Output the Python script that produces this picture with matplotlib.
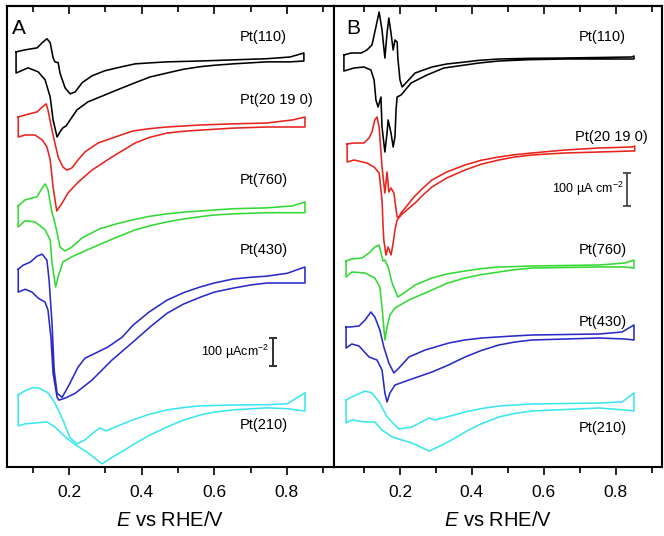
import matplotlib
matplotlib.use("Agg")
import matplotlib.pyplot as plt
from matplotlib.ticker import MultipleLocator

plt.rcParams['font.family'] = ['Liberation Sans', 'DejaVu Sans']
plt.rcParams['mathtext.fontset'] = 'custom'
plt.rcParams['mathtext.rm'] = 'Liberation Sans'
plt.rcParams['mathtext.it'] = 'Liberation Sans:italic'
plt.rcParams['mathtext.bf'] = 'Liberation Sans:bold'

# ---------------- data: potentials (V vs RHE) and currents (uA cm^-2) ----------------
# Panel A
A_110_E_up = [0.054, 0.079, 0.112, 0.126, 0.139, 0.148, 0.156, 0.161, 0.170, 0.175, 0.189, 0.203, 0.217, 0.236, 0.263, 0.299, 0.346, 0.382, 0.430, 0.470, 0.561, 0.652, 0.745, 0.809, 0.847]
A_110_j_up = [28, 35, 42, 60, 74, 60, 7, -7, -10, -46, -98, -119, -112, -80, -56, -38, -24, -14, -10, -7, -4, 0, 4, 10, 24]
A_110_E_dn = [0.054, 0.087, 0.115, 0.134, 0.148, 0.156, 0.167, 0.175, 0.183, 0.192, 0.203, 0.222, 0.252, 0.285, 0.327, 0.382, 0.423, 0.470, 0.515, 0.561, 0.600, 0.652, 0.745, 0.809, 0.847]
A_110_j_dn = [-46, -28, -42, -70, -130, -210, -270, -252, -238, -231, -210, -175, -147, -130, -108, -80, -60, -46, -33, -24, -19, -14, -7, -7, -4]

A_20190_E_up = [0.060, 0.079, 0.112, 0.126, 0.137, 0.142, 0.153, 0.161, 0.170, 0.183, 0.194, 0.208, 0.225, 0.244, 0.280, 0.327, 0.376, 0.420, 0.470, 0.561, 0.652, 0.745, 0.817, 0.850]
A_20190_j_up = [28, 35, 46, 63, 74, 52, -18, -63, -112, -147, -158, -150, -122, -94, -63, -42, -21, -13, -7, 0, 4, 7, 18, 28]
A_20190_E_dn = [0.060, 0.079, 0.106, 0.126, 0.139, 0.148, 0.156, 0.166, 0.181, 0.197, 0.225, 0.263, 0.318, 0.382, 0.420, 0.470, 0.515, 0.561, 0.650, 0.745, 0.850]
A_20190_j_dn = [-42, -35, -35, -52, -77, -122, -217, -301, -273, -238, -200, -158, -112, -63, -44, -28, -22, -18, -11, -7, -7]

A_760_E_up = [0.060, 0.079, 0.112, 0.126, 0.134, 0.142, 0.153, 0.159, 0.167, 0.175, 0.189, 0.208, 0.236, 0.285, 0.330, 0.376, 0.420, 0.470, 0.515, 0.561, 0.652, 0.745, 0.817, 0.850]
A_760_j_up = [14, 35, 46, 77, 91, 70, -10, -35, -80, -130, -144, -130, -98, -66, -49, -35, -23, -14, -8, -4, 4, 7, 14, 28]
A_760_E_dn = [0.060, 0.079, 0.106, 0.134, 0.148, 0.153, 0.163, 0.170, 0.183, 0.208, 0.263, 0.327, 0.382, 0.425, 0.470, 0.515, 0.561, 0.600, 0.652, 0.745, 0.850]
A_760_j_dn = [-60, -38, -42, -70, -105, -186, -270, -234, -182, -164, -133, -98, -70, -55, -42, -32, -24, -18, -14, -10, -10]

A_430_E_up = [0.060, 0.073, 0.093, 0.112, 0.126, 0.139, 0.145, 0.153, 0.159, 0.167, 0.181, 0.197, 0.225, 0.244, 0.272, 0.307, 0.346, 0.376, 0.420, 0.470, 0.515, 0.561, 0.600, 0.652, 0.700, 0.745, 0.801, 0.850]
A_430_j_up = [38, 52, 63, 84, 91, 70, 0, -150, -315, -396, -410, -374, -304, -273, -256, -234, -200, -158, -112, -70, -44, -24, -10, 4, 10, 14, 24, 46]
A_430_E_dn = [0.060, 0.079, 0.098, 0.115, 0.134, 0.142, 0.150, 0.156, 0.167, 0.172, 0.189, 0.217, 0.263, 0.318, 0.382, 0.425, 0.470, 0.515, 0.561, 0.600, 0.652, 0.700, 0.745, 0.801, 0.850]
A_430_j_dn = [-42, -32, -42, -63, -77, -105, -200, -326, -410, -420, -413, -396, -350, -280, -210, -162, -116, -84, -60, -42, -28, -17, -10, -10, -10]

A_210_E_up = [0.060, 0.073, 0.098, 0.115, 0.142, 0.161, 0.183, 0.203, 0.222, 0.244, 0.263, 0.285, 0.302, 0.335, 0.376, 0.420, 0.470, 0.515, 0.561, 0.650, 0.745, 0.801, 0.850]
A_210_j_up = [52, 63, 77, 77, 60, 24, -35, -98, -119, -105, -84, -63, -74, -56, -35, -16, 0, 8, 14, 17, 18, 21, 60]
A_210_E_dn = [0.060, 0.079, 0.106, 0.139, 0.161, 0.189, 0.217, 0.252, 0.291, 0.321, 0.354, 0.376, 0.420, 0.470, 0.515, 0.561, 0.600, 0.652, 0.745, 0.801, 0.850]
A_210_j_dn = [-56, -49, -46, -42, -60, -94, -122, -150, -189, -164, -140, -122, -90, -60, -36, -18, -8, 0, 7, 4, -4]

# Panel B
B_110_E_up = [0.044, 0.064, 0.092, 0.108, 0.122, 0.133, 0.142, 0.150, 0.158, 0.164, 0.169, 0.175, 0.181, 0.186, 0.192, 0.194, 0.200, 0.206, 0.242, 0.289, 0.330, 0.381, 0.420, 0.475, 0.560, 0.659, 0.845, 0.851]
B_110_j_up = [6, 12, 12, 21, 36, 90, 135, 81, -3, 72, 117, 72, 21, 51, 45, -3, -69, -90, -48, -30, -21, -15, -10, -6, -4, -3, 0, 3]
B_110_E_dn = [0.044, 0.072, 0.100, 0.119, 0.128, 0.133, 0.139, 0.147, 0.150, 0.158, 0.164, 0.167, 0.175, 0.181, 0.186, 0.189, 0.192, 0.203, 0.231, 0.275, 0.322, 0.381, 0.420, 0.475, 0.560, 0.659, 0.845, 0.851]
B_110_j_dn = [-42, -33, -30, -39, -69, -129, -150, -120, -210, -285, -228, -189, -228, -270, -240, -159, -120, -114, -78, -54, -33, -24, -18, -12, -8, -6, -6, -6]

B_20190_E_up = [0.053, 0.072, 0.100, 0.114, 0.122, 0.130, 0.136, 0.142, 0.150, 0.158, 0.164, 0.169, 0.175, 0.183, 0.192, 0.197, 0.203, 0.239, 0.260, 0.289, 0.330, 0.381, 0.425, 0.475, 0.520, 0.567, 0.659, 0.754, 0.845, 0.853]
B_20190_j_up = [18, 21, 21, 36, 54, 90, 99, 69, -51, -129, -66, -126, -114, -129, -201, -201, -189, -141, -118, -90, -66, -45, -31, -21, -14, -9, 0, 6, 9, 12]
B_20190_E_dn = [0.053, 0.072, 0.108, 0.128, 0.142, 0.150, 0.153, 0.155, 0.161, 0.167, 0.175, 0.181, 0.186, 0.192, 0.203, 0.242, 0.265, 0.289, 0.330, 0.381, 0.425, 0.475, 0.520, 0.567, 0.610, 0.659, 0.754, 0.845, 0.853]
B_20190_j_dn = [-36, -30, -39, -51, -69, -150, -231, -270, -315, -291, -315, -279, -240, -210, -195, -159, -134, -111, -84, -60, -43, -30, -21, -15, -12, -9, -6, -3, -3]

B_760_E_up = [0.050, 0.066, 0.094, 0.114, 0.130, 0.142, 0.147, 0.153, 0.158, 0.167, 0.178, 0.194, 0.211, 0.242, 0.289, 0.330, 0.381, 0.425, 0.475, 0.567, 0.754, 0.826, 0.851]
B_760_j_up = [15, 21, 24, 39, 57, 63, 39, 15, 18, -3, -51, -93, -81, -57, -36, -24, -15, -8, -3, 0, 3, 9, 18]
B_760_E_dn = [0.050, 0.066, 0.103, 0.130, 0.144, 0.150, 0.158, 0.164, 0.172, 0.186, 0.225, 0.289, 0.330, 0.381, 0.425, 0.475, 0.520, 0.567, 0.754, 0.826, 0.851]
B_760_j_dn = [-33, -18, -21, -36, -63, -123, -222, -183, -147, -126, -102, -72, -52, -36, -26, -18, -11, -6, -3, -3, -6]

B_430_E_up = [0.050, 0.061, 0.086, 0.103, 0.119, 0.130, 0.144, 0.155, 0.169, 0.183, 0.197, 0.225, 0.270, 0.336, 0.380, 0.428, 0.500, 0.567, 0.754, 0.818, 0.851]
B_430_j_up = [27, 27, 30, 48, 72, 57, 18, -33, -81, -111, -96, -63, -42, -21, -12, -6, -1, 3, 6, 12, 33]
B_430_E_dn = [0.050, 0.066, 0.086, 0.114, 0.136, 0.150, 0.158, 0.164, 0.172, 0.186, 0.225, 0.289, 0.335, 0.381, 0.425, 0.475, 0.520, 0.567, 0.754, 0.826, 0.851]
B_430_j_dn = [-36, -24, -30, -63, -72, -102, -171, -198, -171, -147, -132, -108, -87, -63, -44, -27, -18, -12, -6, -9, -12]

B_210_E_up = [0.050, 0.066, 0.103, 0.122, 0.144, 0.164, 0.197, 0.233, 0.281, 0.297, 0.340, 0.381, 0.425, 0.475, 0.567, 0.754, 0.818, 0.851]
B_210_j_up = [15, 24, 42, 36, 6, -36, -72, -66, -39, -45, -33, -21, -11, -3, 3, 6, 9, 36]
B_210_E_dn = [0.050, 0.066, 0.103, 0.130, 0.150, 0.178, 0.233, 0.281, 0.317, 0.350, 0.381, 0.425, 0.475, 0.520, 0.567, 0.754, 0.826, 0.851]
B_210_j_dn = [-54, -45, -51, -51, -75, -96, -114, -138, -120, -101, -81, -57, -36, -25, -18, -9, -15, -18]

labels = ["Pt(110)", "Pt(20 19 0)", "Pt(760)", "Pt(430)", "Pt(210)"]
colors = ["#000000", "#e8231e", "#33d933", "#2a2ac8", "#3ae6f0"]
offsets_A = [1425, 1197, 900, 654, 200]
offsets_B = [1230, 951, 603, 393, 186]

curves_A = [(A_110_E_up, A_110_j_up, A_110_E_dn, A_110_j_dn),
            (A_20190_E_up, A_20190_j_up, A_20190_E_dn, A_20190_j_dn),
            (A_760_E_up, A_760_j_up, A_760_E_dn, A_760_j_dn),
            (A_430_E_up, A_430_j_up, A_430_E_dn, A_430_j_dn),
            (A_210_E_up, A_210_j_up, A_210_E_dn, A_210_j_dn)]
curves_B = [(B_110_E_up, B_110_j_up, B_110_E_dn, B_110_j_dn),
            (B_20190_E_up, B_20190_j_up, B_20190_E_dn, B_20190_j_dn),
            (B_760_E_up, B_760_j_up, B_760_E_dn, B_760_j_dn),
            (B_430_E_up, B_430_j_up, B_430_E_dn, B_430_j_dn),
            (B_210_E_up, B_210_j_up, B_210_E_dn, B_210_j_dn)]

# ---------------- figure ----------------
fig = plt.figure(figsize=(6.64, 5.36), dpi=100)
axA = fig.add_axes([7/664, 69/536, 327/664, 461/536])
axB = fig.add_axes([334/664, 69/536, 328/664, 461/536])


def draw_panel(ax, curves, offsets, xlim, ylim, label_x, label_y, letter, letter_x):
    for (Eu, ju, Ed, jd), off, c in zip(curves, offsets, colors):
        xs = list(Eu) + list(Ed[::-1]) + [Eu[0]]
        ys = [v + off for v in ju] + [v + off for v in jd[::-1]] + [ju[0] + off]
        ax.plot(xs, ys, color=c, lw=1.15, solid_joinstyle='round')
    for lab, lx, ly in zip(labels, label_x, label_y):
        ax.text(lx, ly, lab, fontsize=10.5, ha='left', va='center')
    ax.set_xlim(*xlim)
    ax.set_ylim(*ylim)
    ax.set_yticks([])
    ax.xaxis.set_major_locator(MultipleLocator(0.2))
    ax.xaxis.set_minor_locator(MultipleLocator(0.1))
    ax.tick_params(axis='x', which='major', direction='out', length=6, width=1.2,
                   labelsize=12.5, pad=7)
    ax.tick_params(axis='x', which='minor', direction='out', length=4, width=1.2)
    for s in ax.spines.values():
        s.set_linewidth(1.5)
    sec = ax.secondary_xaxis('top')
    sec.xaxis.set_major_locator(MultipleLocator(0.2))
    sec.xaxis.set_minor_locator(MultipleLocator(0.1))
    sec.tick_params(axis='x', which='major', direction='in', length=6, width=1.2, labeltop=False)
    sec.tick_params(axis='x', which='minor', direction='in', length=4, width=1.2)
    sec.spines['top'].set_linewidth(1.5)
    ax.set_xlabel('$E$ vs RHE/V', fontsize=14.5, labelpad=8)
    ax.text(letter_x, 0.952, letter, transform=ax.transAxes,
            fontsize=15, ha='left', va='center')


draw_panel(axA, curves_A, offsets_A, (0.029, 0.930), (0, 1613.5),
           [0.671] * 5, [1505, 1284, 1004, 760, 147], 'A', 0.016)
draw_panel(axB, curves_B, offsets_B, (0.0164, 0.929), (0, 1383),
           [0.698, 0.687, 0.698, 0.698, 0.698], [1290, 990, 651, 435, 117], 'B', 0.036)

# scale bars (100 uA cm^-2)
axA.errorbar([0.762], [403], yerr=[50], color='#222222', lw=1.3, capsize=3, capthick=1.3)
axA.text(0.752, 403, '100 µAcm$^{-2}$', fontsize=9, ha='right', va='center')
axB.errorbar([0.832], [833], yerr=[50], color='#444444', lw=1.3, capsize=3, capthick=1.3)
axB.text(0.822, 833, '100 µA cm$^{-2}$', fontsize=9, ha='right', va='center')

fig.savefig('out.png', dpi=100)
